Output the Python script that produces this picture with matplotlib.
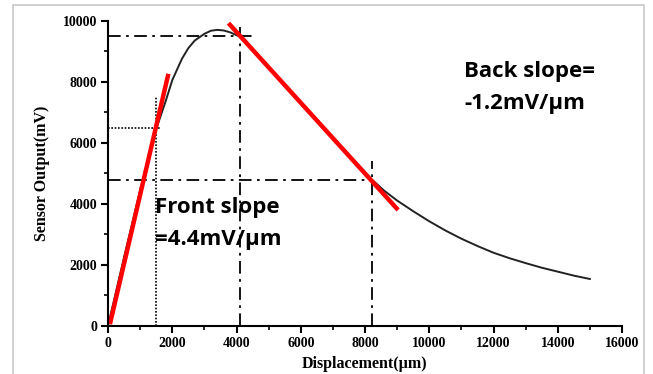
import matplotlib
matplotlib.use("Agg")
import matplotlib.pyplot as plt
from matplotlib.patches import Rectangle

# Sensor response curve
disp_um = [0, 500, 1000, 1500, 1800, 2000, 2300, 2500, 2700, 3000, 3200, 3400,
           3600, 3800, 4100, 4500, 5000, 5500, 6000, 6500, 7000, 7500, 8000,
           8200, 8600, 9000, 9500, 10000, 10500, 11000, 11500, 12000, 12500,
           13000, 13500, 14000, 14500, 15000]
output_mv = [0, 2250, 4450, 6450, 7380, 8050, 8750, 9100, 9350, 9570, 9670, 9700,
             9680, 9620, 9480, 9050, 8470, 7890, 7310, 6740, 6160, 5600, 5040,
             4810, 4430, 4110, 3760, 3430, 3130, 2860, 2620, 2400, 2220,
             2060, 1910, 1780, 1650, 1540]

# Tangent lines (slopes)
front_x = [60, 1880]
front_y = [60, 8260]
back_x = [3750, 9030]
back_y = [9920, 3800]

# Reference lines
peak_ref_y = 9500
peak_ref_x = 4107
back_ref_x = 8204
back_ref_y = 4790
front_ref_x = 1495
front_ref_y = 6475

x_ticks = [0, 2000, 4000, 6000, 8000, 10000, 12000, 14000, 16000]
y_ticks = [0, 2000, 4000, 6000, 8000, 10000]

W, H = 653, 374
fig = plt.figure(figsize=(W / 100, H / 100), dpi=100)
fig.patches.append(Rectangle((13 / W, -0.05), (644 - 13) / W, 1 - 5 / H + 0.05,
                             transform=fig.transFigure, fill=False,
                             edgecolor="#c8c8c8", linewidth=1.2))

ax = fig.add_axes([108 / W, 1 - 326 / H, 514 / W, 305.3 / H])
ax.set_xlim(0, 16000)
ax.set_ylim(0, 10000)

# reference lines
dd = (0, (7, 3, 1.5, 3))
ax.plot([0, 4500], [peak_ref_y, peak_ref_y], color="black", lw=1.3, linestyle=dd)
ax.plot([peak_ref_x, peak_ref_x], [0, 9800], color="black", lw=1.3, linestyle=dd)
ax.plot([0, back_ref_x], [back_ref_y, back_ref_y], color="black", lw=1.3, linestyle=dd)
ax.plot([back_ref_x, back_ref_x], [0, 5400], color="black", lw=1.3, linestyle=dd)
ax.plot([front_ref_x, front_ref_x], [0, 7520], color="black", lw=1.2, linestyle=(0, (1, 1)))
ax.plot([0, 1650], [front_ref_y, front_ref_y], color="black", lw=1.2, linestyle=(0, (1, 1)))

ax.plot(disp_um, output_mv, color="#222222", lw=1.4)
ax.plot(front_x, front_y, color="#ff0000", lw=3.2, solid_capstyle="butt")
ax.plot(back_x, back_y, color="#ff0000", lw=3.2, solid_capstyle="butt")

for s in ["top", "right"]:
    ax.spines[s].set_visible(False)
for s in ["left", "bottom"]:
    ax.spines[s].set_linewidth(1.5)

serif = ["Liberation Serif", "DejaVu Serif"]
ax.set_xticks(x_ticks)
ax.set_yticks(y_ticks)
ax.set_xticks(range(1000, 16000, 2000), minor=True)
ax.set_yticks(range(1000, 10000, 2000), minor=True)
ax.tick_params(which="major", direction="out", length=5, width=1.5, pad=3)
ax.tick_params(which="minor", direction="out", length=3, width=1.2)
for lab in ax.get_xticklabels() + ax.get_yticklabels():
    lab.set_family(serif)
    lab.set_weight("bold")
    lab.set_fontsize(10)

ax.set_xlabel("Displacement(µm)", family=serif, weight="bold", fontsize=11.5, labelpad=4)
ax.set_ylabel("Sensor Output(mV)", family=serif, weight="bold", fontsize=11.5, labelpad=9)

sans = ["Open Sans", "DejaVu Sans"]
fig.text(464 / W, 1 - 72 / H, "Back slope=", family=sans, weight="bold", fontsize=16,
         va="center", ha="left")
fig.text(464 / W, 1 - 103 / H, "-1.2mV/µm", family=sans, weight="bold", fontsize=16,
         va="center", ha="left")
fig.text(155 / W, 1 - 207 / H, "Front slope", family=sans, weight="bold", fontsize=16,
         va="center", ha="left")
fig.text(155 / W, 1 - 239 / H, "=4.4mV/µm", family=sans, weight="bold", fontsize=16,
         va="center", ha="left")

fig.savefig("out.png", dpi=100)
